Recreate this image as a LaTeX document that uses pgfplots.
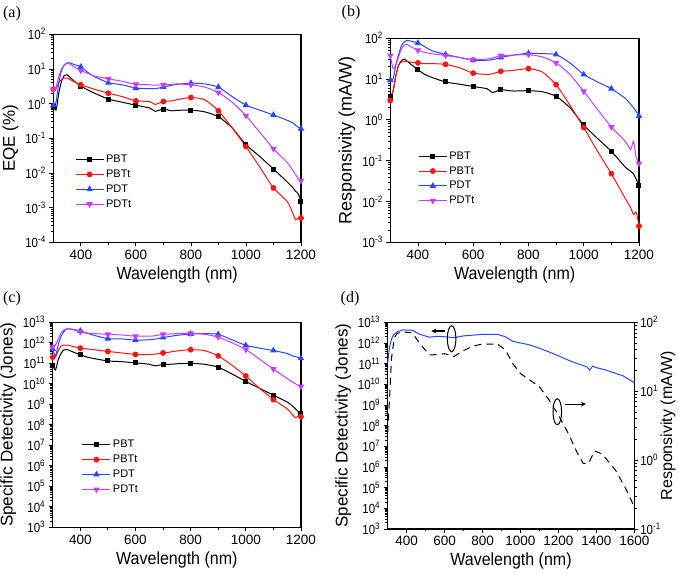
\documentclass[border=0pt]{standalone}
\usepackage{fontspec}
\setmainfont{Liberation Sans}
\newfontfamily\seriffont{Liberation Serif}
\usepackage{graphicx}
\usepackage{pgfplots}
\pgfplotsset{compat=1.18}
\usepackage{pgfplotstable}
\usetikzlibrary{arrows.meta}

\definecolor{cblue}{RGB}{40,70,255}
\definecolor{cred}{RGB}{255,20,20}
\definecolor{cmag}{RGB}{200,60,255}

\pgfplotstableread{
x pbt pbtt pdt pdtt
300 0.85 2.6 0.9 2.6
310 0.65 2.7 1.1 3.0
320 2.0 4.0 4.0 6.0
330 4.5 5.0 9.0 10
340 6.5 5.5 13 13
350 6.8 5.4 15 14.5
360 5.8 5.0 15 14
375 4.5 4.3 13.5 11.5
400 3.2 3.5 11.5 9.0
425 2.5 3.0 8.0 7.5
450 2.0 2.6 6.0 6.2
500 1.35 2.0 4.0 5.2
550 1.1 1.6 3.5 4.4
600 0.9 1.2 2.8 3.6
650 0.75 1.15 2.7 3.5
670 0.6 0.95 2.7 3.4
700 0.7 1.15 3.0 3.5
730 0.62 1.2 3.4 3.6
750 0.64 1.3 3.6 3.7
800 0.65 1.5 3.9 3.5
850 0.58 1.3 3.7 3.0
900 0.42 0.62 3.0 2.1
950 0.2 0.2 1.6 1.1
1000 0.065 0.058 0.9 0.45
1050 0.03 0.015 0.65 0.15
1100 0.013 0.0037 0.47 0.05
1150 0.0055 0.0015 0.33 0.02
1170 0.0038 0.0007 0.28 0.012
1180 0.003 0.00045 0.24 0.009
1190 0.0025 0.0005 0.21 0.007
1200 0.0015 0.0005 0.19 0.006
}\tabA

\pgfplotstableread{
x pbt pbtt pdt pdtt
300 3.7 3.0 9.4 38
310 5.0 5.0 10 18
320 12 12 22 22
330 22 22 40 35
340 28 26 65 55
350 31 27 82 68
360 28 27 89 72
375 23 26 85 62
400 17 25 77 51
425 13 24 62 45
450 11 24 50 42
500 8.5 23 40 38
550 7.5 19 34 34
600 6.6 14 29 30
650 5.8 13 29 31
670 4.7 13.5 30 33
700 5.5 15.5 34 38
730 5.2 16 37 38
750 5.1 16.5 39 39
800 5.2 18 43 40
850 4.9 15 42 35
900 3.8 7.3 40 25
950 2.0 2.3 25 13
1000 0.75 0.65 13 5.0
1050 0.35 0.17 8.5 1.8
1100 0.17 0.048 5.8 0.67
1150 0.07 0.012 3.4 0.3
1170 0.055 0.007 2.4 0.19
1180 0.048 0.0048 2.0 0.3
1190 0.035 0.0055 1.6 0.12
1200 0.025 0.0025 1.25 0.085
}\tabB

\pgfplotstableread{
x pbt pbtt pdt pdtt
300 8e10 2e11 5e11 6.5e11
310 4.7e10 2e11 2.2e11 8e11
320 1.5e11 4e11 8e11 1.5e12
330 3e11 7e11 2e12 3e12
340 4.5e11 7.8e11 3.5e12 4.2e12
350 4.7e11 7.8e11 4.7e12 4.8e12
360 4.3e11 7.5e11 4.8e12 4.8e12
375 3.5e11 6.5e11 4.5e12 4.3e12
400 2.6e11 5.5e11 3.8e12 3.4e12
425 2e11 5e11 2.9e12 3.0e12
450 1.7e11 4.6e11 2.3e12 2.8e12
500 1.3e11 3.8e11 1.6e12 2.6e12
550 1.2e11 3.2e11 1.55e12 2.4e12
600 1.05e11 2.7e11 1.35e12 2.1e12
650 9e10 2.7e11 1.4e12 2.1e12
670 7.5e10 2.8e11 1.5e12 2.2e12
700 8.8e10 3.2e11 1.8e12 2.6e12
730 9e10 3.6e11 2.1e12 2.7e12
750 9.5e10 4e11 2.3e12 2.8e12
800 1e11 4.6e11 2.7e12 2.9e12
850 9e10 4.2e11 2.8e12 2.6e12
900 6.5e10 2.3e11 2.6e12 1.9e12
950 3e10 8e10 1.4e12 1e12
1000 1.3e10 2.4e10 7.5e11 4.7e11
1050 6e9 6e9 5.5e11 1.6e11
1100 2.8e9 1.7e9 4.2e11 5.2e10
1150 1.3e9 6e8 3e11 1.8e10
1170 8e8 3e8 2.3e11 1.2e10
1180 6e8 2.2e8 2.1e11 1e10
1190 4.5e8 2.6e8 1.9e11 8.5e9
1200 3.6e8 2.5e8 1.75e11 7.3e9
}\tabC

\pgfplotstableread{
x d
300 1.05e11
305 3e11
310 6.6e11
320 1.5e12
330 2.4e12
350 3.5e12
380 4.3e12
430 4.1e12
470 2.6e12
520 1.9e12
560 2.1e12
600 2.0e12
650 1.8e12
700 2.2e12
800 2.6e12
880 2.6e12
920 2.0e12
960 1.2e12
1000 1.0e12
1050 8e11
1100 5.5e11
1150 3.7e11
1200 2.4e11
1250 1.5e11
1300 1.0e11
1350 7e10
1365 4.9e10
1380 7.6e10
1400 6.4e10
1450 4.9e10
1500 3.4e10
1540 2.6e10
1560 2.0e10
1600 1.2e10
}\tabDd

\pgfplotstableread{
x r
300 2.5
310 8
320 30
335 60
350 69
380 73
430 70
470 49
520 33.5
560 34
600 35
650 32
700 39
750 45
800 48.5
880 48
920 40
960 25
1000 18
1100 11.6
1150 7.5
1200 4.5
1250 2.5
1300 1.26
1330 0.9
1360 0.9
1390 1.36
1430 1.23
1500 0.72
1550 0.41
1600 0.21
}\tabDr

\pgfplotsset{
  every axis/.append style={
    scale only axis, anchor=south west,
    minor x tick num=1,
    xtick pos=left, ytick pos=left, tick align=outside,
    axis line style={line width=1.1pt},
    tick style={black, line width=0.8pt},
    major tick length=4pt, minor tick length=2.5pt,
    xlabel style={font=\fontsize{16}{16}\selectfont},
    ylabel style={font=\fontsize{17}{17}\selectfont},
    x tick label style={font=\fontsize{13.5}{13.5}\selectfont},
    y tick label style={font=\fontsize{11.5}{11.5}\selectfont},
    /pgf/number format/assume math mode=true,
    /pgf/number format/set thousands separator={},
    legend cell align=left,
    legend style={draw=none, fill=none, font=\fontsize{11}{11}\selectfont,
      anchor=north west, row sep=1.8pt},
  },
}
\tikzset{
  ser/.style={line width=1pt, smooth, tension=0.35, mark indices={1,9,12,14,17,20,22,24,26,31}, mark options={solid}},
  sPBT/.style={ser, black, mark=square*, mark size=2pt},
  sPBTt/.style={ser, cred, mark=*, mark size=2.4pt},
  sPDT/.style={ser, cblue, mark=triangle*, mark size=2.8pt},
  sPDTt/.style={ser, cmag, mark=triangle*, mark size=2.8pt, mark options={solid, rotate=180}},
}

\newcommand{\tp}[1]{\scalebox{1}[1.15]{10\textsuperscript{#1}}}
\newcommand{\wl}{\scalebox{1}[1.1]{Wavelength (nm)}}
\newcommand{\legimg}{\draw[mark indices={2}] plot coordinates {(0pt,0pt) (14pt,0pt) (28pt,0pt)};}

\begin{document}
\begin{tikzpicture}[x=1pt,y=1pt]
\useasboundingbox (0,0) rectangle (678,573);

\node[font=\seriffont\fontsize{16}{16}\selectfont] at (12,559) {(a)};
\node[font=\seriffont\fontsize{16}{16}\selectfont] at (351,560) {(b)};
\node[font=\seriffont\fontsize{16}{16}\selectfont] at (12,274) {(c)};
\node[font=\seriffont\fontsize{16}{16}\selectfont] at (350,274) {(d)};

% (a)
\begin{axis}[at={(53.3pt,330.7pt)}, width=247.7pt, height=208pt,
  ymode=log, xmin=300, xmax=1200, xtick={400,600,...,1200},
  xlabel={\wl},
  ymin=1e-4, ymax=1e2, ytick={1e-4,1e-3,1e-2,1e-1,1,10,100},
  yticklabels={\tp{-4},\tp{-3},\tp{-2},\tp{-1},\tp{0},\tp{1},\tp{2}},
  ylabel={EQE (\%)},
  legend image code/.code={\legimg},
  legend style={at={(0.075,0.44)}}]
\addplot[sPBT] table[x=x,y=pbt]{\tabA};
\addplot[sPBTt] table[x=x,y=pbtt]{\tabA};
\addplot[sPDT] table[x=x,y=pdt]{\tabA};
\addplot[sPDTt] table[x=x,y=pdtt]{\tabA};
\legend{PBT,PBTt,PDT,PDTt}
\end{axis}

% (b)
\begin{axis}[at={(390.3pt,330.7pt)}, width=248.7pt, height=204pt,
  ymode=log, xmin=300, xmax=1200, xtick={400,600,...,1200},
  xlabel={\wl},
  ymin=1e-3, ymax=1e2, ytick={1e-3,1e-2,1e-1,1,10,100},
  yticklabels={\tp{-3},\tp{-2},\tp{-1},\tp{0},\tp{1},\tp{2}},
  ylabel={Responsivity (mA/W)}, ylabel style={font=\fontsize{18}{18}\selectfont},
  legend image code/.code={\legimg},
  legend style={at={(0.1,0.465)}}]
\addplot[sPBT] table[x=x,y=pbt]{\tabB};
\addplot[sPBTt] table[x=x,y=pbtt]{\tabB};
\addplot[sPDT] table[x=x,y=pdt]{\tabB};
\addplot[sPDTt] table[x=x,y=pdtt]{\tabB};
\legend{PBT,PBTt,PDT,PDTt}
\end{axis}

% (c)
\begin{axis}[at={(52.7pt,45.7pt)}, width=248.3pt, height=205pt,
  ymode=log, xmin=300, xmax=1200, xtick={400,600,...,1200},
  xlabel={\wl},
  ymin=1e3, ymax=1e13, ytick={1e3,1e4,1e5,1e6,1e7,1e8,1e9,1e10,1e11,1e12,1e13},
  yticklabels={\tp{3},\tp{4},\tp{5},\tp{6},\tp{7},\tp{8},\tp{9},\tp{10},\tp{11},\tp{12},\tp{13}},
  ylabel={Specific Detectivity (Jones)},
  legend image code/.code={\legimg},
  legend style={at={(0.105,0.445)}}]
\addplot[sPBT] table[x=x,y=pbt]{\tabC};
\addplot[sPBTt] table[x=x,y=pbtt]{\tabC};
\addplot[sPDT] table[x=x,y=pdt]{\tabC};
\addplot[sPDTt] table[x=x,y=pdtt]{\tabC};
\legend{PBT,PBTt,PDT,PDTt}
\end{axis}

% (d) left
\begin{axis}[at={(387.7pt,44pt)}, width=246.6pt, height=206.7pt,
  ymode=log, xmin=300, xmax=1600, xtick={400,600,...,1600},
  xlabel={\wl},
  ymin=1e3, ymax=1e13, ytick={1e3,1e4,1e5,1e6,1e7,1e8,1e9,1e10,1e11,1e12,1e13},
  yticklabels={\tp{3},\tp{4},\tp{5},\tp{6},\tp{7},\tp{8},\tp{9},\tp{10},\tp{11},\tp{12},\tp{13}},
  ylabel={Specific Detectivity (Jones)}, clip=false]
\addplot[cblue, line width=1pt] table[x=x,y=d]{\tabDd};
\draw[line width=1pt] (axis cs:637,1.6e12) ellipse [x radius=4.3pt, y radius=13pt];
\draw[line width=1.2pt, -{Stealth[length=5pt,width=5pt]}] (axis cs:602,3.8e12) -- (axis cs:530,3.8e12);
\draw[line width=1pt] (axis cs:1194,4.7e8) ellipse [x radius=4.3pt, y radius=13pt];
\draw[line width=1.2pt, -{Stealth[length=5pt,width=5pt]}] (axis cs:1235,1.1e9) -- (axis cs:1345,1.1e9);
\end{axis}

% (d) right
\begin{axis}[at={(387.7pt,44pt)}, width=246.6pt, height=206.7pt,
  ymode=log, xmin=300, xmax=1600,
  axis x line=none, axis y line*=right, ytick pos=right,
  ymin=0.1, ymax=100, ytick={0.1,1,10,100},
  yticklabels={\tp{-1},\tp{0},\tp{1},\tp{2}},
  y tick label style={xshift=-1.5pt},
  ylabel={Responsivity (mA/W)},
  every axis y label/.style={at={(axis description cs:1.137,0.5)}, rotate=90, anchor=center, font=\fontsize{16}{16}\selectfont}]
\addplot[black, line width=1pt, dash pattern=on 7pt off 5pt] table[x=x,y=r]{\tabDr};
\end{axis}
\end{tikzpicture}
\end{document}
